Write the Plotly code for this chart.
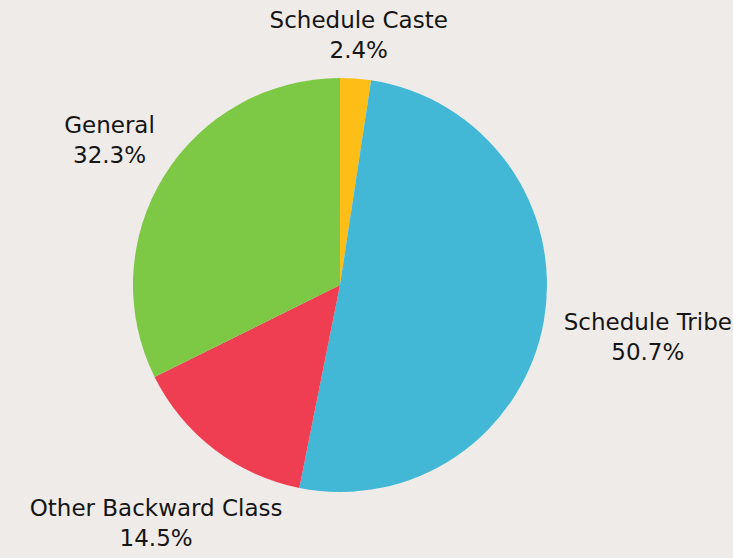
import numpy as np
import plotly.graph_objects as go

# caste distribution
categories = ["Schedule Caste", "Schedule Tribe", "Other Backward Class", "General"]
shares = [2.4, 50.7, 14.5, 32.3]
colors = ["#fdbf17", "#42b8d6", "#ef3e52", "#7dc946"]

# how far each label sits from the centre, in pie radii
label_dist = [1.20, 1.51, 1.46, 1.31]

# page geometry (px): size, pie centre, pie radius
W, H = 733, 558
CX, CY, R = 340, 285, 207

vals = np.array(shares)
mid_angle = np.radians((np.cumsum(vals) - vals / 2) / vals.sum() * 360)
label_x = np.array(label_dist) * np.sin(mid_angle)
label_y = np.array(label_dist) * np.cos(mid_angle)
label_text = [f"{c}<br>{v:.1f}%" for c, v in zip(categories, shares)]

fig = go.Figure()

fig.add_trace(
    go.Pie(
        labels=categories,
        values=shares,
        sort=False,
        direction="clockwise",
        rotation=0,
        domain=dict(
            x=[(CX - R) / W, (CX + R) / W],
            y=[(H - CY - R) / H, (H - CY + R) / H],
        ),
        marker={"colors": colors, "line": {"width": 0}},
        textinfo="none",
        showlegend=False,
        hoverinfo="label+value",
    )
)

# labels placed along each slice's middle direction
fig.add_trace(
    go.Scatter(
        x=label_x,
        y=label_y,
        mode="text",
        text=label_text,
        textposition="middle center",
        textfont={"family": "DejaVu Sans, sans-serif", "size": 23, "color": "#151515"},
        cliponaxis=False,
        showlegend=False,
        hoverinfo="skip",
    )
)

fig.update_layout(
    width=W,
    height=H,
    margin=dict(l=0, r=0, t=0, b=0),
    paper_bgcolor="#efebe8",
    plot_bgcolor="rgba(0,0,0,0)",
    xaxis=dict(range=[-CX / R, (W - CX) / R], visible=False, fixedrange=True),
    yaxis=dict(range=[-(H - CY) / R, CY / R], visible=False, fixedrange=True),
)

fig.write_html(
    "out.html",
    config={"displayModeBar": False},
    post_script="document.body.style.margin='0';document.body.style.background='#efebe8';",
)
